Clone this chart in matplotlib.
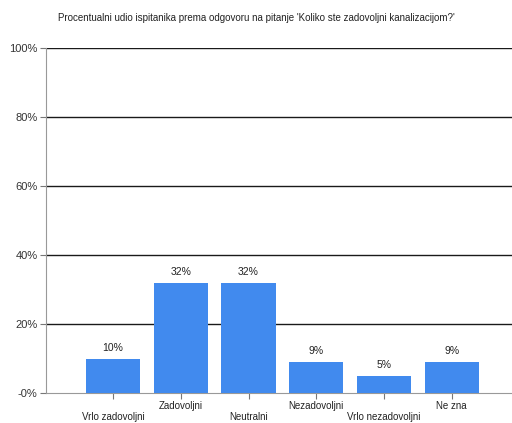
import matplotlib
matplotlib.use("Agg")
import matplotlib.pyplot as plt
from matplotlib.transforms import blended_transform_factory, offset_copy

plt.rcParams["font.family"] = ["Liberation Sans", "DejaVu Sans"]

categories = ["Vrlo zadovoljni", "Zadovoljni", "Neutralni", "Nezadovoljni", "Vrlo nezadovoljni", "Ne zna"]
values = [10, 32, 32, 9, 5, 9]
yticks = [0, 20, 40, 60, 80, 100]
ytick_labels = ["-0%", "20%", "40%", "60%", "80%", "100%"]
title = "Procentualni udio ispitanika prema odgovoru na pitanje 'Koliko ste zadovoljni kanalizacijom?'"

W, H = 512, 423
fig = plt.figure(figsize=(W / 100, H / 100), dpi=100)
ax = fig.add_axes([46 / W, 30 / H, (W - 46) / W, (393 - 48) / H])

x = list(range(len(categories)))
ax.bar(x, values, width=0.8, color="#418AEE", zorder=3)
for xi, v in zip(x, values):
    ax.annotate(f"{v}%", (xi, v), xytext=(0, 4), textcoords="offset points",
                ha="center", va="bottom", fontsize=7.5, color="#222222")

ax.set_xlim(-0.99, 5.89)
ax.set_ylim(0, 100)
ax.set_yticks(yticks)
ax.set_yticklabels(ytick_labels, fontsize=8, color="#333333")
for y in yticks[1:]:
    ax.axhline(y, color="#1a1a1a", lw=1.0, zorder=1)

ax.set_xticks(x)
ax.set_xticklabels([])
ax.tick_params(axis="x", length=4, color="#777777", direction="out")
ax.tick_params(axis="y", length=4, color="#777777", direction="out", pad=2)
trans = blended_transform_factory(ax.transData, ax.transAxes)
for xi, lab in zip(x, categories):
    dy = -14 if xi % 2 == 0 else -6
    ax.text(xi, 0, lab, transform=offset_copy(trans, fig=fig, y=dy, units="points"),
            ha="center", va="top", fontsize=7, color="#222222")

for side in ["top", "right"]:
    ax.spines[side].set_visible(False)
ax.spines["left"].set_color("#999999")
ax.spines["bottom"].set_color("#999999")

fig.text(0.5, 1 - 18 / H, title, ha="center", va="center", fontsize=7.0, color="#222222")

fig.savefig("out.png", dpi=100)
